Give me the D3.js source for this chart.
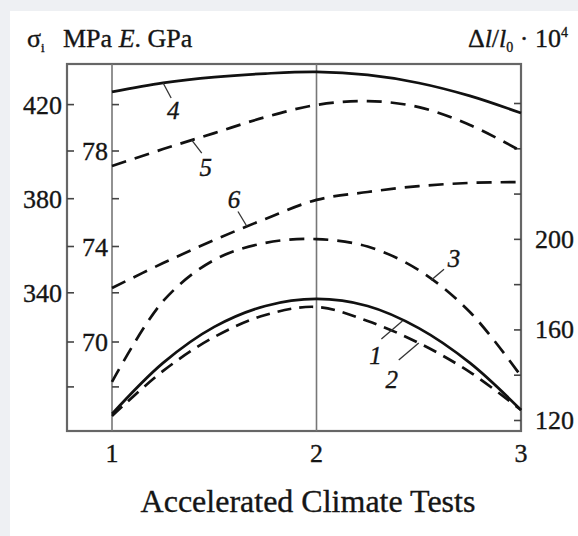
<!DOCTYPE html>
<html>
<head>
<meta charset="utf-8">
<script src="https://cdn.jsdelivr.net/npm/d3@7"></script>
<style>
  html, body { margin: 0; padding: 0; background: #eef0f3; }
  text { font-family: "Liberation Serif", "Times New Roman", serif; fill: #151515; stroke: #151515; stroke-width: 0.35px; }
</style>
</head>
<body>
<div id="chart"></div>
<script>
// cycles of accelerated climate tests
var tests = [1, 1.25, 1.5, 1.75, 2, 2.25, 2.5, 2.75, 3];

// sigma_i, MPa (curves 1 and 4)
var sigma1 = [288.5, 310.2, 325.5, 334.4, 337.4, 334.4, 325.0, 310.2, 290.2];
var sigma4 = [425.4, 429.2, 431.7, 433.2, 433.9, 432.6, 429.2, 423.7, 416.4];
// E, GPa (curves 2 and 5)
var modulus2 = [66.9, 68.79, 70.21, 71.13, 71.47, 70.88, 69.96, 68.74, 67.15];
var modulus5 = [77.37, 78.08, 78.75, 79.42, 79.93, 80.09, 79.84, 79.09, 78.0];
// dl/l0 * 10^4 (curves 3 and 6)
var strain3 = [136.8, 172.5, 190.7, 198.2, 199.9, 196.6, 186.2, 167.7, 139.4];
var strain6 = [178.3, 189.3, 199.5, 208.8, 217.2, 220.7, 223.3, 224.7, 225.1];

var xTicks = [1, 2, 3];
var sigmaTicks = [300, 340, 380, 420];
var sigmaLabels = ["", "340", "380", "420"];
var modulusTicks = [70, 74, 78];
var strainTicks = [120, 140, 160, 180, 200, 220, 240, 260];
var strainLabels = ["120", "", "160", "", "200", "", "", ""];

var width = 578, height = 536;
var frameTop = 64, frameBottom = 431, frameLeft = 67, frameRight = 521;

var svg = d3.select("#chart").append("svg")
    .attr("width", width)
    .attr("height", height);

svg.append("rect")
    .attr("x", 10).attr("y", 11)
    .attr("width", width - 10).attr("height", height - 11)
    .attr("fill", "#fff");

var x = d3.scaleLinear().domain([1, 3]).range([112, frameRight]);
var ySigma = d3.scaleLinear().domain([300, 420]).range([386.9, 104.6]);
var yE = d3.scaleLinear().domain([70, 78]).range([342, 151]);
var yStrain = d3.scaleLinear().domain([120, 260]).range([420, 103]);

var series = [
  {name: "1", values: sigma1, y: ySigma, dash: null},
  {name: "2", values: modulus2, y: yE, dash: "14,8"},
  {name: "3", values: strain3, y: yStrain, dash: "15,9"},
  {name: "4", values: sigma4, y: ySigma, dash: null},
  {name: "5", values: modulus5, y: yE, dash: "15,9"},
  {name: "6", values: strain6, y: yStrain, dash: "15,9"}
];

// curve labels: where the leader touches the curve, text offset, leader end
var notes = [
  {name: "4", at: 1.25, dx: 10, dy: 27, lx: 8, ly: 15},
  {name: "5", at: 1.39, dx: 14, dy: 27, lx: 10, ly: 13},
  {name: "6", at: 1.66, dx: -13, dy: -27, lx: -9, ly: -15},
  {name: "3", at: 2.56, dx: 23, dy: -22, lx: 13, ly: -11},
  {name: "1", at: 2.42, dx: -27, dy: 34, lx: -21, ly: 18},
  {name: "2", at: 2.5, dx: -27, dy: 36, lx: -20, ly: 17}
];

function valueAt(values, t) {
  for (var i = 0; i < tests.length - 1; i++) {
    if (t >= tests[i] && t <= tests[i + 1]) {
      var k = (t - tests[i]) / (tests[i + 1] - tests[i]);
      return values[i] + k * (values[i + 1] - values[i]);
    }
  }
  return values[values.length - 1];
}

// frame and inner verticals
svg.append("rect")
    .attr("x", frameLeft).attr("y", frameTop)
    .attr("width", frameRight - frameLeft).attr("height", frameBottom - frameTop)
    .attr("fill", "none")
    .attr("stroke", "#666")
    .attr("stroke-width", 2.2);

svg.selectAll(".grid")
    .data([1, 2])
    .enter().append("line")
    .attr("x1", function(d) { return x(d); })
    .attr("x2", function(d) { return x(d); })
    .attr("y1", frameTop).attr("y2", frameBottom)
    .attr("stroke", "#777")
    .attr("stroke-width", 1.6);

// ticks on the left border and on the x = 1 line
var leftTicks = sigmaTicks.map(function(d) { return ySigma(d); })
    .concat(modulusTicks.map(function(d) { return yE(d); }));

[frameLeft, x(1)].forEach(function(px) {
  svg.append("g").selectAll("line")
      .data(leftTicks)
      .enter().append("line")
      .attr("x1", px).attr("x2", px + 7)
      .attr("y1", function(d) { return d; })
      .attr("y2", function(d) { return d; })
      .attr("stroke", "#444")
      .attr("stroke-width", 1.6);
});

svg.append("g").selectAll("text")
    .data(sigmaTicks)
    .enter().append("text")
    .attr("x", frameLeft - 5)
    .attr("y", function(d) { return ySigma(d); })
    .attr("dy", "0.35em")
    .attr("text-anchor", "end")
    .style("font-size", "26px")
    .text(function(d, i) { return sigmaLabels[i]; });

svg.append("g").selectAll("text")
    .data(modulusTicks)
    .enter().append("text")
    .attr("x", frameLeft + 15)
    .attr("y", function(d) { return yE(d); })
    .attr("dy", "0.35em")
    .style("font-size", "26px")
    .text(function(d) { return d; });

// right axis
var rightAxis = d3.axisRight(yStrain)
    .tickValues(strainTicks)
    .tickSize(-7)
    .tickPadding(14)
    .tickFormat(function(d, i) { return strainLabels[i]; });

var ra = svg.append("g")
    .attr("transform", "translate(" + frameRight + ",0)")
    .call(rightAxis);
ra.select(".domain").remove();
ra.selectAll("line").attr("stroke", "#444").attr("stroke-width", 1.6);
ra.selectAll("text")
    .style("font-family", "Liberation Serif, serif")
    .style("font-size", "26px")
    .attr("fill", "#151515");

// bottom labels
svg.append("g").selectAll("text")
    .data(xTicks)
    .enter().append("text")
    .attr("x", function(d) { return x(d); })
    .attr("y", 462)
    .attr("text-anchor", "middle")
    .style("font-size", "26px")
    .text(function(d) { return d; });

svg.append("text")
    .attr("x", 308).attr("y", 512)
    .attr("text-anchor", "middle")
    .style("font-size", "32px")
    .text("Accelerated Climate Tests");

// headers
var hl = svg.append("text").attr("x", 27).attr("y", 47).style("font-size", "26px");
hl.append("tspan").text("σ");
hl.append("tspan").attr("dy", 5).style("font-size", "13px").text("i");
hl.append("tspan").attr("x", 63).attr("dy", -5).text("MPa ");
hl.append("tspan").style("font-style", "italic").text("E");
hl.append("tspan").text(". GPa");

var hr = svg.append("text").attr("x", 568).attr("y", 47)
    .attr("text-anchor", "end").style("font-size", "26px");
hr.append("tspan").text("Δ");
hr.append("tspan").style("font-style", "italic").text("l");
hr.append("tspan").text("/");
hr.append("tspan").style("font-style", "italic").text("l");
hr.append("tspan").attr("dy", 5).style("font-size", "14px").text("0");
hr.append("tspan").attr("dy", -5).text(" · 10");
hr.append("tspan").attr("dy", -10).style("font-size", "14px").text("4");

// curves
series.forEach(function(s) {
  var line = d3.line()
      .x(function(d) { return x(d); })
      .y(function(d, i) { return s.y(s.values[i]); })
      .curve(d3.curveCatmullRom.alpha(0.5));

  svg.append("path")
      .datum(tests)
      .attr("d", line)
      .attr("fill", "none")
      .attr("stroke", "#111")
      .attr("stroke-width", 2.7)
      .attr("stroke-dasharray", s.dash);
});

// curve numbers with leaders
notes.forEach(function(n) {
  var s = series.filter(function(d) { return d.name === n.name; })[0];
  var px = x(n.at), py = s.y(valueAt(s.values, n.at));
  svg.append("line")
      .attr("x1", px).attr("y1", py)
      .attr("x2", px + n.lx).attr("y2", py + n.ly)
      .attr("stroke", "#333")
      .attr("stroke-width", 1.3);
  svg.append("text")
      .attr("x", px + n.dx).attr("y", py + n.dy)
      .attr("dy", "0.35em")
      .attr("text-anchor", "middle")
      .style("font-size", "25px")
      .style("font-style", "italic")
      .text(n.name);
});
</script>
</body>
</html>
